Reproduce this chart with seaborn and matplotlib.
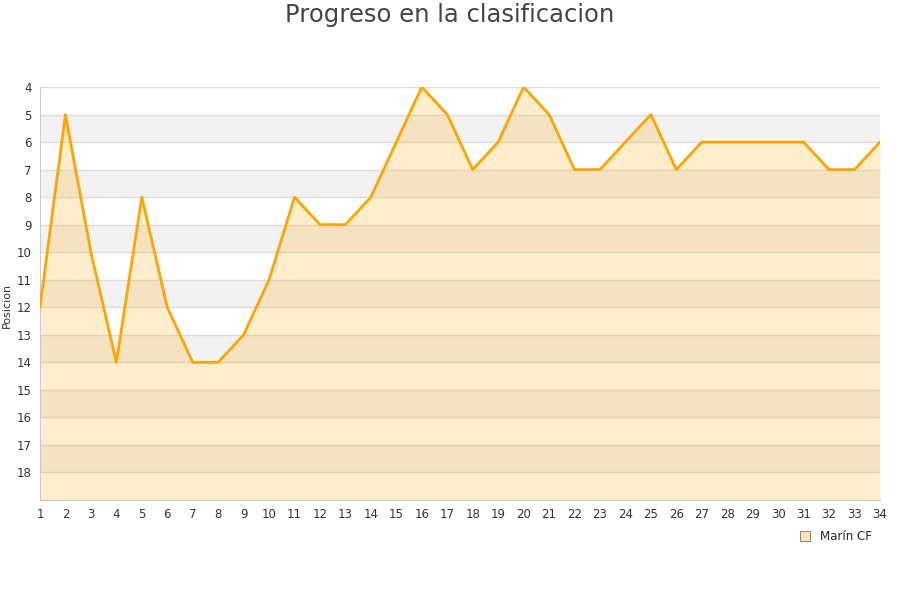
import matplotlib
matplotlib.use("Agg")
import matplotlib.pyplot as plt
import seaborn as sns
import pandas as pd

# datos
jornadas = list(range(1, 35))
posicion = [12, 5, 10, 14, 8, 12, 14, 14, 13, 11, 8, 9, 9, 8, 6, 4, 5, 7, 6, 4,
            5, 7, 7, 6, 5, 7, 6, 6, 6, 6, 6, 7, 7, 6]
equipo = "Marín CF"
y_ticks = list(range(4, 19))

df = pd.DataFrame({"Jornada": jornadas, "Posicion": posicion})

sns.set_style("white")
plt.rcParams["font.family"] = ["DejaVu Sans"]

fig = plt.figure(figsize=(9, 6), dpi=100)
ax = fig.add_axes([40 / 900, 1 - 500 / 600, 840 / 900, 413 / 600])

# bandas alternas
for v in range(5, 19, 2):
    ax.axhspan(v, v + 1, color="#f2f2f2", zorder=0, lw=0)
for v in range(4, 20):
    ax.axhline(v, color="#dddddd", lw=1, zorder=1)

ax.fill_between(df["Jornada"], df["Posicion"], 19, color="#ffa500", alpha=0.2,
                lw=0, zorder=2)
sns.lineplot(data=df, x="Jornada", y="Posicion", ax=ax, color="#ffa500", lw=2,
             zorder=3, legend=False)

ax.set_xlim(1, 34)
ax.set_ylim(19, 4)
ax.set_xticks(jornadas)
ax.set_yticks(y_ticks)
ax.tick_params(axis="both", labelsize=8.5, colors="#333333", length=0, pad=6)
ax.set_xlabel("")
ax.set_ylabel("Posicion", fontsize=8, color="#333333", labelpad=2)
ax.yaxis.set_label_coords(-0.033, 0.47)
for s in ["top", "right"]:
    ax.spines[s].set_visible(False)
for s in ["left", "bottom"]:
    ax.spines[s].set_color("#cccccc")

fig.text(0.5, 0.995, "Progreso en la clasificacion", ha="center", va="top",
         fontsize=17.5, color="#444444")

handle = plt.Line2D([], [], marker="s", ls="none", markersize=7,
                    markerfacecolor="#ffe5b4", markeredgecolor="#777777",
                    markeredgewidth=0.6)
fig.legend([handle], [equipo], loc="center", bbox_to_anchor=(0.925, 0.105),
           frameon=False, fontsize=8.5, handletextpad=0.3)

fig.savefig("out.png", dpi=100)
